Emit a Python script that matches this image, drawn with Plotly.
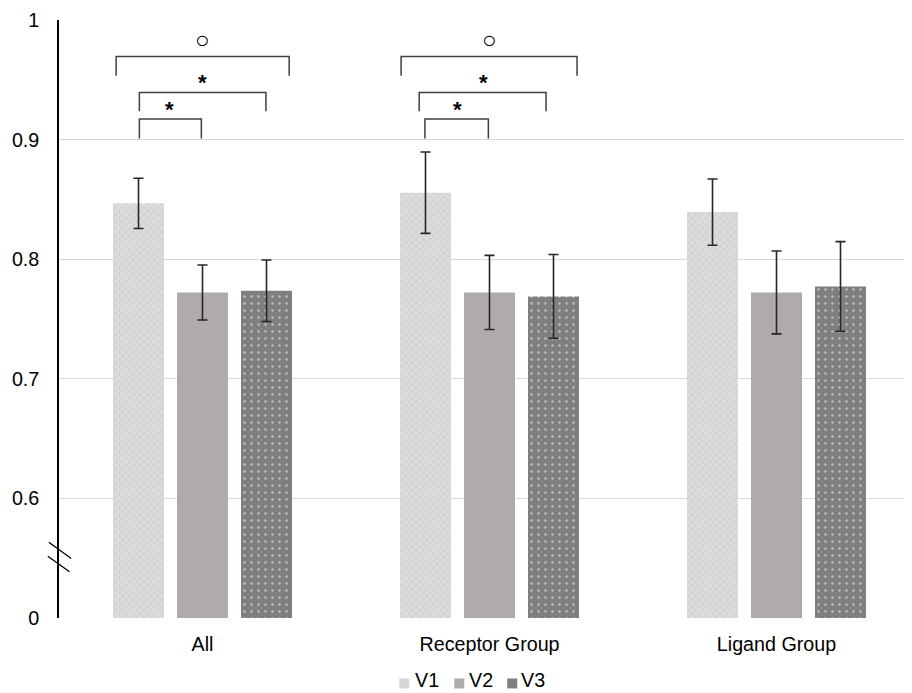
import plotly.graph_objects as go

categories = ["All", "Receptor Group", "Ligand Group"]
series_names = ["V1", "V2", "V3"]
v1 = [0.8467, 0.8556, 0.8394]
v2 = [0.7722, 0.7722, 0.7722]
v3 = [0.7736, 0.7689, 0.7772]
v1_err = [0.021, 0.034, 0.0277]
v2_err = [0.023, 0.031, 0.0346]
v3_err = [0.0257, 0.035, 0.0375]

y_tickvals = [0.5, 0.6, 0.7, 0.8, 0.9, 1.0]
y_ticktext = ["0", "0.6", "0.7", "0.8", "0.9", "1"]

# significance brackets: (group index, left offset, right offset, top y, leg y, label, label x offset, label y)
brackets = [
    (0, -0.301, 0.302, 0.9694, 0.9533, "○", 0.0, 0.984),
    (0, -0.220, 0.221, 0.9394, 0.9236, "*", 0.0, 0.950),
    (0, -0.220, -0.004, 0.9172, 0.9010, "*", -0.115, 0.9275),
    (1, -0.308, 0.305, 0.9694, 0.9533, "○", 0.0, 0.984),
    (1, -0.245, 0.197, 0.9394, 0.9236, "*", -0.02, 0.950),
    (1, -0.225, -0.004, 0.9172, 0.9010, "*", -0.11, 0.9275),
]

FONT = "Liberation Sans, Arial, sans-serif"
FS = 19.7
xidx = list(range(len(categories)))

# page body has an 8px margin: figure coordinates = viewport - 8
W, H = 912, 693
ML, MR, MT, MB = 50.5, 0, 12, 82.5
PW = W - ML - MR
PH = H - MT - MB

def px_x(vx):
    return (vx - 8 - ML) / PW

def px_y(vy):
    return 1 - (vy - 8 - MT) / PH

fig = go.Figure()
colors = ["#d6d6d6", "#afabab", "#7f7f7f"]
styles = [
    dict(color=colors[0], pattern=dict(shape="x", fgcolor="#f0f0f0", bgcolor="#d4d4d4", size=5, solidity=0.35)),
    dict(color=colors[1]),
    dict(color=colors[2], pattern=dict(shape=".", fgcolor="#ffffff", bgcolor="#7f7f7f", size=7, solidity=0.1)),
]
for name, vals, errs, st in zip(series_names, [v1, v2, v3], [v1_err, v2_err, v3_err], styles):
    fig.add_trace(go.Bar(
        x=xidx, y=vals, name=name, showlegend=False,
        marker=dict(line=dict(width=0), **st),
        error_y=dict(type="data", array=errs, visible=True, color="#262626", thickness=1.6, width=5),
    ))

shapes = []
annotations = []
for g, a, b, ytop, yleg, lab, lx, ly in brackets:
    shapes.append(dict(type="path", xref="x", yref="y",
                       path=f"M {g + a},{yleg} L {g + a},{ytop} L {g + b},{ytop} L {g + b},{yleg}",
                       line=dict(color="#404040", width=1.5)))
    txt = "<b>*</b>" if lab == "*" else lab
    annotations.append(dict(x=g + lx, y=ly, xref="x", yref="y", text=txt, showarrow=False,
                            font=dict(family=FONT, size=22 if lab == "*" else 24, color="#000000"),
                            yshift=-3 if lab == "*" else 0))

# axis break marks
for (vx0, vy0, vx1, vy1) in [(48.3, 542.7, 70.7, 559.0), (47.3, 556.7, 69.0, 572.3)]:
    shapes.append(dict(type="line", xref="paper", yref="paper", x0=px_x(vx0), x1=px_x(vx1),
                       y0=px_y(vy0), y1=px_y(vy1), line=dict(color="#000000", width=1.3)))

# legend (drawn manually to match compact spacing)
legend_marker_x = [399, 454, 507]
legend_text_x = [413, 467, 519]
for name, col, mx, tx in zip(series_names, colors, legend_marker_x, legend_text_x):
    shapes.append(dict(type="rect", xref="paper", yref="paper", x0=px_x(mx), x1=px_x(mx + 10),
                       y0=px_y(689), y1=px_y(679), fillcolor=col, line=dict(width=0)))
    annotations.append(dict(x=px_x(tx), y=px_y(681), xref="paper", yref="paper", text=name,
                            showarrow=False, xanchor="left", yanchor="middle",
                            font=dict(family=FONT, size=FS, color="#000000")))

fig.update_layout(
    width=W, height=H,
    margin=dict(l=ML, r=MR, t=MT, b=MB, autoexpand=False),
    paper_bgcolor="white", plot_bgcolor="white",
    barmode="group", bargap=0.331, bargroupgap=0.203,
    font=dict(family=FONT, size=FS, color="#000000"),
    shapes=shapes, annotations=annotations,
    showlegend=False,
)
fig.update_xaxes(tickvals=xidx, ticktext=categories, range=[-0.5, 2.5], showgrid=False,
                 showline=False, zeroline=False, ticks="", ticklabelstandoff=12, automargin=False)
fig.update_yaxes(range=[0.5, 1.0], tickvals=y_tickvals, ticktext=y_ticktext, showgrid=True,
                 gridcolor="#d9d9d9", gridwidth=1, showline=True, linecolor="#000000", linewidth=1.5,
                 zeroline=False, ticks="", ticklabelstandoff=14, automargin=False)

fig.write_html("out.html")
